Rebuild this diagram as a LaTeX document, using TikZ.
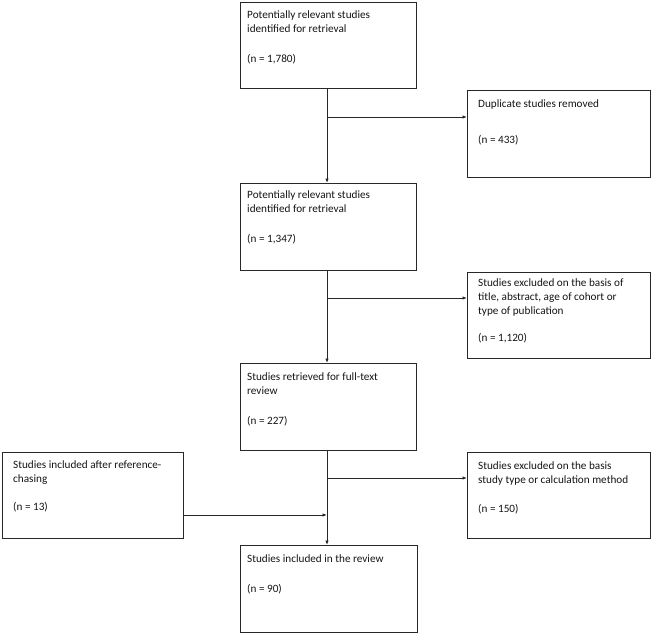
\documentclass[tikz,border=0pt]{standalone}
\usepackage{fontspec}
\setmainfont{Carlito}
\usepackage{tikz}
\usetikzlibrary{positioning,arrows.meta}
\definecolor{borde}{RGB}{40,40,40}
\definecolor{tinta}{RGB}{20,20,20}

\begin{document}
\begin{tikzpicture}[x=1pt, y=-1pt, font=\fontsize{11.2}{14}\selectfont,
  caja/.style={draw=borde, line width=1.2pt, anchor=north west, inner sep=0pt, minimum width=176pt, minimum height=87pt},
  lado/.style={caja, minimum width=183pt, minimum height=86pt},
  texto/.style={align=left, inner sep=0pt, text=tinta},
  flecha/.style={-{Latex[length=4.5pt,width=3.5pt]}, borde, line width=0.9pt}]
  \useasboundingbox (0,0) rectangle (651,634);
  % cajas centrales
  \node[caja, minimum height=86pt] (ident) at (240,2) {};
  \node[caja] (cribado) at (240,183) {};
  \node[caja] (completo) at (240,363) {};
  \node[caja, minimum width=177pt] (incluidos) at (240,545) {};
  % cajas laterales
  \node[lado, minimum height=87pt] (duplic) at (467,90) {};
  \node[lado] (excl1) at (467,272) {};
  \node[lado] (excl2) at (467,452) {};
  \node[lado, minimum width=181pt] (refs) at (2,452) {};
  % textos
  \node[texto, below right=9pt and 7pt of ident.north west] (identt) {Potentially relevant studies\\identified for retrieval\\[16pt](n = 1,780)};
  \node[texto, below right=8pt and 7pt of cribado.north west] (cribadot) {Potentially relevant studies\\identified for retrieval\\[16pt](n = 1,347)};
  \node[texto, below right=10pt and 7pt of completo.north west] (completot) {Studies retrieved for full-text\\review\\[16pt](n = 227)};
  \node[texto, below right=10pt and 7pt of incluidos.north west] (incluidost) {Studies included in the review\\[16pt](n = 90)};
  \node[texto, below right=10pt and 11pt of duplic.north west] (duplict) {Duplicate studies removed\\[22pt](n = 433)};
  \node[texto, below right=7pt and 11pt of excl1.north west] (excl1t) {Studies excluded on the basis of\\title, abstract, age of cohort or\\type of publication\\[13pt](n = 1,120)};
  \node[texto, below right=10pt and 11pt of excl2.north west] (excl2t) {Studies excluded on the basis\\study type or calculation method\\[15pt](n = 150)};
  \node[texto, below right=9pt and 11pt of refs.north west] (refst) {Studies included after reference-\\chasing\\[14pt](n = 13)};
  % flechas
  \coordinate (eje) at (327,0);
  \coordinate (r1) at (327,117);
  \coordinate (r2) at (327,298);
  \coordinate (r3) at (327,478);
  \coordinate (r4) at (327,515);
  \draw[flecha] (ident.south -| eje) -- (cribado.north -| eje);
  \draw[flecha] (cribado.south -| eje) -- (completo.north -| eje);
  \draw[flecha] (completo.south -| eje) -- (incluidos.north -| eje);
  \draw[flecha] (r1) -- (r1 -| duplic.west);
  \draw[flecha] (r2) -- (r2 -| excl1.west);
  \draw[flecha] (r3) -- (r3 -| excl2.west);
  \draw[flecha] (r4 -| refs.east) -- (r4);
\end{tikzpicture}
\end{document}
